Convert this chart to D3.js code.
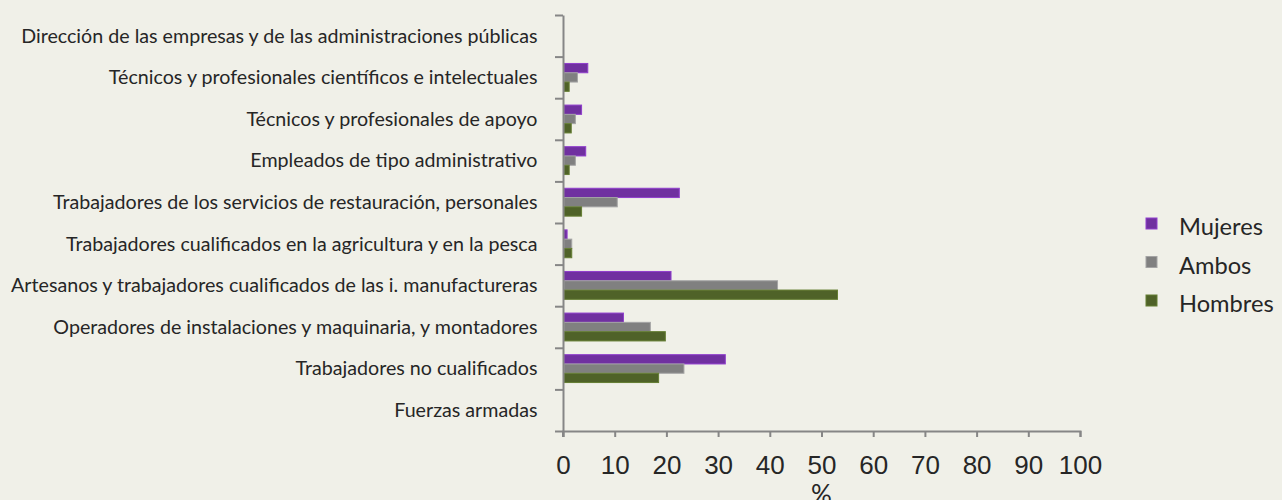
<!DOCTYPE html>
<html>
<head>
<meta charset="utf-8">
<script src="https://cdn.jsdelivr.net/npm/d3@7"></script>
<style>
  body { margin: 0; background: #f0f0e8; }
  svg { display: block; font-family: "Gill Sans", Lato, sans-serif; }
</style>
</head>
<body>
<svg id="chart"></svg>
<script>
const categories = [
  'Dirección de las empresas y de las administraciones públicas',
  'Técnicos y profesionales científicos e intelectuales',
  'Técnicos y profesionales de apoyo',
  'Empleados de tipo administrativo',
  'Trabajadores de los servicios de restauración, personales',
  'Trabajadores cualificados en la agricultura y en la pesca',
  'Artesanos y trabajadores cualificados de las i. manufactureras',
  'Operadores de instalaciones y maquinaria, y montadores',
  'Trabajadores no cualificados',
  'Fuerzas armadas'
];
const seriesNames = ['Mujeres', 'Ambos', 'Hombres'];
const mujeres = [0, 4.6, 3.4, 4.2, 22.3, 0.6, 20.7, 11.5, 31.2, 0];
const ambos   = [0, 2.6, 2.2, 2.2, 10.3, 1.5, 41.3, 16.7, 23.2, 0];
const hombres = [0, 1.0, 1.4, 1.0, 3.4, 1.5, 52.9, 19.6, 18.3, 0];
const xTicks = [0, 10, 20, 30, 40, 50, 60, 70, 80, 90, 100];

const seriesValues = [mujeres, ambos, hombres];
const colors = ['#7030a0', '#808080', '#4f6228'];

const W = 1282, H = 500;
const margin = {top: 15, left: 563, right: 202, bottom: 69};

const svg = d3.select('#chart')
  .attr('width', W)
  .attr('height', H);

svg.append('rect')
  .attr('width', W).attr('height', H)
  .attr('fill', '#f0f0e8');

const x = d3.scaleLinear()
  .domain([0, 100])
  .range([margin.left, W - margin.right]);

const y0 = d3.scaleBand()
  .domain(categories)
  .range([margin.top, H - margin.bottom])
  .paddingInner(0.33)
  .paddingOuter(0.165);

const y1 = d3.scaleBand()
  .domain(seriesNames)
  .range([0, y0.bandwidth()]);

// band edges, for the category axis ticks
const yEdge = d3.scaleLinear()
  .domain([0, categories.length])
  .range([margin.top, H - margin.bottom]);

// font size that makes the widest text of `sel` about `target` px wide
function fitSize(sel, target, start) {
  sel.style('font-size', start + 'px');
  let widest = 0;
  sel.each(function() { widest = Math.max(widest, this.getComputedTextLength()); });
  return start * target / widest;
}

// bars
const rows = categories.map((c, i) => ({
  cat: c,
  vals: seriesNames.map((s, j) => ({key: s, value: seriesValues[j][i], color: colors[j]}))
}));

svg.append('g')
  .selectAll('g')
  .data(rows)
  .enter()
  .append('g')
  .attr('transform', d => `translate(0, ${y0(d.cat)})`)
  .selectAll('rect')
  .data(d => d.vals.filter(v => v.value > 0))
  .enter()
  .append('rect')
  .attr('x', x(0) + 1)
  .attr('y', d => y1(d.key))
  .attr('width', d => x(d.value) - x(0))
  .attr('height', y1.bandwidth())
  .attr('fill', d => d.color)
  .attr('stroke', d => d3.color(d.color).brighter(0.7))
  .attr('stroke-width', 1);

// x axis
const xAxis = svg.append('g')
  .attr('transform', `translate(0, ${H - margin.bottom})`)
  .call(d3.axisBottom(x).tickValues(xTicks).tickSize(6).tickSizeOuter(6).tickPadding(19));

xAxis.select('.domain').attr('stroke', '#868686').attr('stroke-width', 2);
xAxis.selectAll('.tick line').attr('stroke', '#868686').attr('stroke-width', 2);
xAxis.selectAll('.tick text')
  .attr('fill', '#262626')
  .style('font-size', '26px');

// y axis, ticks between the categories
const yAxis = svg.append('g')
  .attr('transform', `translate(${x(0)}, 0)`)
  .call(d3.axisLeft(yEdge).ticks(categories.length).tickFormat('').tickSize(8).tickSizeOuter(0));

yAxis.select('.domain').attr('stroke', '#868686').attr('stroke-width', 2);
yAxis.selectAll('.tick line').attr('stroke', '#868686').attr('stroke-width', 2);

// the y axis pokes through the x axis a little
svg.append('line')
  .attr('x1', x(0)).attr('x2', x(0))
  .attr('y1', H - margin.bottom)
  .attr('y2', H - margin.bottom + 6)
  .attr('stroke', '#868686')
  .attr('stroke-width', 2);

// category labels
const catLabels = svg.append('g')
  .selectAll('text')
  .data(categories)
  .enter()
  .append('text')
  .attr('x', x(0) - 25.5)
  .attr('y', d => y0(d) + y0.bandwidth() / 2)
  .attr('dy', '0.35em')
  .attr('text-anchor', 'end')
  .attr('fill', '#262626')
  .text(d => d);

catLabels.style('font-size', fitSize(catLabels, 527, 20) + 'px');

// x axis title
svg.append('text')
  .attr('x', (x(0) + x(100)) / 2)
  .attr('y', 504)
  .attr('text-anchor', 'middle')
  .attr('fill', '#262626')
  .style('font-size', '26px')
  .text('%');

// legend
const legend = svg.append('g')
  .attr('transform', 'translate(1146, 218)');

const legendItems = legend.selectAll('g')
  .data(seriesNames)
  .enter()
  .append('g')
  .attr('transform', (d, i) => `translate(0, ${i * 38.5})`);

legendItems.append('rect')
  .attr('width', 11).attr('height', 11)
  .attr('fill', (d, i) => colors[i])
  .attr('stroke', (d, i) => d3.color(colors[i]).brighter(0.7))
  .attr('stroke-width', 1);

const legendLabels = legendItems.append('text')
  .attr('x', 33)
  .attr('y', 9)
  .attr('dy', '0.35em')
  .attr('fill', '#262626')
  .text(d => d);

// size taken from "Mujeres", about 84px wide in the reference
const legendSize = fitSize(legendLabels.filter(d => d === 'Mujeres'), 84, 24);
legendLabels.style('font-size', legendSize + 'px');
</script>
</body>
</html>
